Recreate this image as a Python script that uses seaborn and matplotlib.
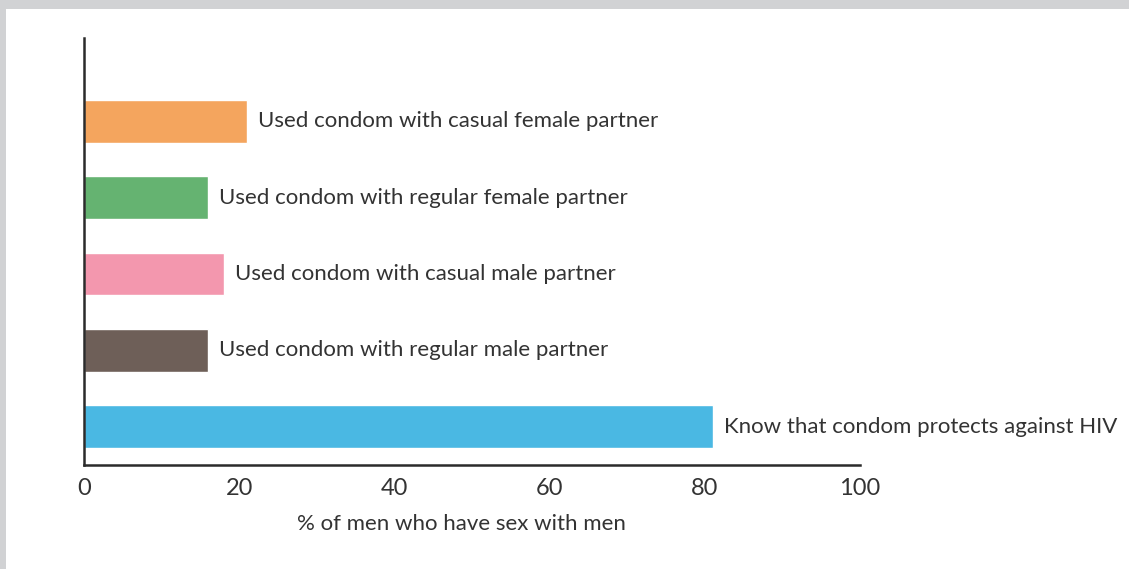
import matplotlib
matplotlib.use("Agg")
import matplotlib.pyplot as plt
import seaborn as sns
import pandas as pd
from matplotlib.patches import Rectangle
from matplotlib.transforms import offset_copy

categories = [
    "Used condom with casual female partner",
    "Used condom with regular female partner",
    "Used condom with casual male partner",
    "Used condom with regular male partner",
    "Know that condom protects against HIV",
]
values = [21, 16, 18, 16, 81]
colors = ["#F4A55E", "#65B371", "#F397AE", "#6E5F58", "#4AB8E3"]
x_ticks = [0, 20, 40, 60, 80, 100]
x_label = "% of men who have sex with men"

sns.set_theme(style="white")
plt.rcParams["font.family"] = ["Lato", "DejaVu Sans"]
text_color = "#333333"
fs = 16

W, H = 1129, 569
fig = plt.figure(figsize=(W / 100, H / 100), dpi=100, facecolor="#D1D2D4")
fig.patches.append(Rectangle((6 / W, 0), 1 - 6 / W, 1 - 9 / H, transform=fig.transFigure,
                             facecolor="white", edgecolor="none", zorder=-10))
ax = fig.add_axes([84 / W, 1 - 465 / H, (860 - 84) / W, (465 - 38) / H])
ax.set_facecolor("none")
ax.set_zorder(5)

df = pd.DataFrame({"cat": categories, "val": values})
sns.barplot(data=df, x="val", y="cat", hue="cat", palette=colors, orient="h",
            width=0.56, legend=False, ax=ax, saturation=1)

ax.set_xlim(0, 100)
ax.set_ylim(4.5, -1.09)
ax.set_xticks(x_ticks)
ax.set_xticklabels([str(t) for t in x_ticks], fontsize=17, color=text_color)
ax.set_yticks([])
ax.set_ylabel("")
ax.set_xlabel("")
for s in ["top", "right"]:
    ax.spines[s].set_visible(False)
for s in ["left", "bottom"]:
    ax.spines[s].set_color("#2b2b2b")
    ax.spines[s].set_linewidth(1.8)
ax.tick_params(axis="x", direction="out", length=8, width=1.5, color="#2b2b2b", pad=1.5)

for i, (c, v) in enumerate(zip(categories, values)):
    tr = offset_copy(ax.transData, fig=fig, x=11, y=0, units="dots")
    ax.text(v, i, c, transform=tr, ha="left", va="center", fontsize=fs, color=text_color)

fig.text(461 / W, 1 - 524 / H, x_label, ha="center", va="center", fontsize=fs, color=text_color,
         zorder=6)

fig.savefig("out.png", dpi=100, facecolor=fig.get_facecolor())
